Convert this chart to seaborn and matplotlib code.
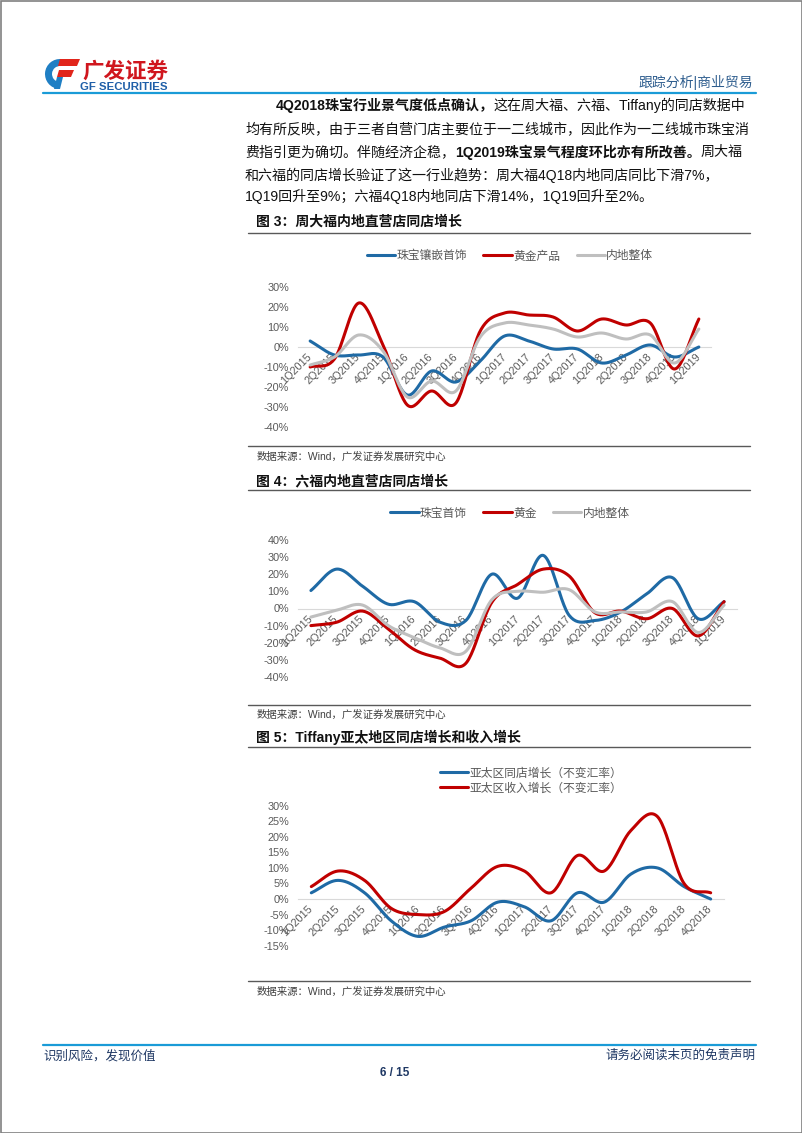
import numpy as np
import pandas as pd
import matplotlib
matplotlib.use("Agg")
import matplotlib.pyplot as plt
import seaborn as sns
from matplotlib.patches import Polygon, Wedge, Rectangle

# ---------------- data ----------------
quarters_a = ["1Q2015", "2Q2015", "3Q2015", "4Q2015", "1Q2016", "2Q2016", "3Q2016", "4Q2016",
              "1Q2017", "2Q2017", "3Q2017", "4Q2017", "1Q2018", "2Q2018", "3Q2018", "4Q2018", "1Q2019"]
quarters_b = quarters_a[:16]

ctf_jewel = [3, -4, -4, -5, -24, -12, -17.5, -7, 5.5, 3, -1, -1, -8, -4, 1, -5, 0]
ctf_gold = [-10, -6, 22, 1, -29, -22, -28, 8, 17, 16, 15, 8, 14, 11, 12, -11, 14]
ctf_total = [-9, -5, 6, -2, -25, -17, -22, 5, 12, 11, 9, 5, 7, 4, 6, -8, 9]
ctf_labels = ["珠宝镶嵌首饰", "黄金产品", "内地整体"]

lf_jewel = [10.5, 23, 13, 2.5, 4, -8, -7, 20, 6, 31, -4, -7, -2, 8.5, 18, -6, 4]
lf_gold = [-10, -8, -1.5, -12, -24, -29, -32, 3.5, 14, 23, 19, -2.5, -1.5, -6, 0, -16, 4]
lf_total = [-5, -1, 2, -10, -17, -23, -25, 5, 10, 9.5, 11, -2, -2, -2, 4, -14, 2]
lf_labels = ["珠宝首饰", "黄金", "内地整体"]

tf_sss = [2, 6, 2, -7, -12, -9, -7, -1, -2.5, -7, 2, -1, 8, 10, 4, 0]
tf_rev = [4, 9, 6, -3, -5, -4, 3.5, 10.5, 9, 2, 14, 9, 22, 26.5, 5, 2]
tf_labels = ["亚太区同店增长（不变汇率）", "亚太区收入增长（不变汇率）"]

yt_a = [30, 20, 10, 0, -10, -20, -30, -40]
yt_b = [40, 30, 20, 10, 0, -10, -20, -30, -40]
yt_c = [30, 25, 20, 15, 10, 5, 0, -5, -10, -15]

# ---------------- style ----------------
sns.set_style("white")
plt.rcParams["font.family"] = ["Liberation Sans", "Noto Sans CJK SC", "DejaVu Sans"]

BLUE = "#1f6aa5"
RED = "#c00000"
GRAY = "#bfbfbf"
TICK = "#595959"
W, H = 802, 1133

fig = plt.figure(figsize=(W / 100, H / 100), dpi=100)
fig.patch.set_facecolor("white")
pax = fig.add_axes([0, 0, 1, 1], zorder=0)
pax.set_xlim(0, W)
pax.set_ylim(H, 0)
pax.axis("off")
renderer = fig.canvas.get_renderer()


def smooth(xs, ys, n=24):
    xs = np.asarray(xs, float)
    ys = np.asarray(ys, float)
    m = np.empty_like(ys)
    m[1:-1] = (ys[2:] - ys[:-2]) / 2.0
    m[0] = ys[1] - ys[0]
    m[-1] = ys[-1] - ys[-2]
    ox, oy = [], []
    for i in range(len(xs) - 1):
        t = np.linspace(0, 1, n, endpoint=False)
        h00 = 2 * t**3 - 3 * t**2 + 1
        h10 = t**3 - 2 * t**2 + t
        h01 = -2 * t**3 + 3 * t**2
        h11 = t**3 - t**2
        ox.append(xs[i] + t * (xs[i + 1] - xs[i]))
        oy.append(h00 * ys[i] + h10 * m[i] + h01 * ys[i + 1] + h11 * m[i + 1])
    ox.append([xs[-1]])
    oy.append([ys[-1]])
    return np.concatenate(ox), np.concatenate(oy)


def seg_text(x, y, segments, size=10.1, color="#111111"):
    for s, bold in segments:
        t = pax.text(x, y, s, fontsize=size, fontweight="bold" if bold else "normal",
                     va="center", ha="left", color=color)
        x += t.get_window_extent(renderer).width


def chart(left, right, top, bottom, cats, series, colors, labels, yticks, ylim,
          leg_xy, leg_ncol):
    ax = fig.add_axes([left / W, 1 - bottom / H, (right - left) / W, (bottom - top) / H], zorder=2)
    ax.patch.set_alpha(0)
    xs = np.arange(len(cats))
    handles = []
    for vals, c in zip(series, colors):
        sx, sy = smooth(xs, vals)
        sns.lineplot(x=sx, y=sy, ax=ax, color=c, linewidth=2.2, sort=False,
                     estimator=None, legend=False, zorder=3)
        handles.append(ax.lines[-1])
    ax.set_xlim(-0.5, len(cats) - 0.5)
    ax.set_ylim(*ylim)
    for sp in ["top", "right", "left"]:
        ax.spines[sp].set_visible(False)
    ax.spines["bottom"].set_position(("data", 0))
    ax.spines["bottom"].set_color("#d9d9d9")
    ax.spines["bottom"].set_linewidth(0.8)
    ax.spines["bottom"].set_zorder(1)
    ax.set_yticks(yticks)
    ax.set_yticklabels([f"{v}%" for v in yticks])
    ax.set_xticks(xs)
    ax.set_xticklabels(cats, rotation=45, ha="right", va="center", rotation_mode="anchor")
    ax.tick_params(axis="y", length=0, pad=6.5, labelsize=7.8, labelcolor=TICK)
    ax.tick_params(axis="x", length=0, pad=6, labelsize=7.8, labelcolor=TICK)
    for lab in ax.get_xticklabels() + ax.get_yticklabels():
        lab.set_family("Liberation Sans")
    ax.grid(False)
    ax.legend(handles, labels, loc="center", bbox_to_anchor=(leg_xy[0] / W, 1 - leg_xy[1] / H),
              bbox_transform=fig.transFigure, ncol=leg_ncol, frameon=False,
              handlelength=2.4, handletextpad=0.1, columnspacing=1.4, labelspacing=0.15,
              prop={"family": "Noto Sans CJK SC", "size": 8.5}, labelcolor=TICK)
    return ax


# ---------------- page decorations ----------------
pax.add_patch(Rectangle((0.5, 0.5), W - 1, H - 1, fill=False, edgecolor="#808080", lw=1.2))

# logo
pax.add_patch(Wedge((60, 74), 15, 95, 275, width=7, facecolor="#1f7fc4", edgecolor="none"))
pax.add_patch(Polygon([(60, 59), (80, 59), (77, 66), (58, 66)], closed=True, facecolor="#e1251b", edgecolor="none"))
pax.add_patch(Polygon([(59, 70), (74, 70), (71, 77), (57, 77)], closed=True, facecolor="#e1251b", edgecolor="none"))
pax.add_patch(Polygon([(57, 77), (63, 77), (60, 89), (54, 89)], closed=True, facecolor="#1f7fc4", edgecolor="none"))
pax.text(82, 71, "广发证券", fontsize=15.5, fontweight="bold", color="#d0161e", va="center", ha="left",
         family=["Noto Sans CJK SC"])
pax.text(80, 87, "GF SECURITIES", fontsize=8.2, fontweight="bold", color="#1f5fa8", va="center", ha="left",
         family=["Liberation Sans"])
pax.text(753, 82, "跟踪分析|商业贸易", fontsize=10, color="#2e5d8e", va="center", ha="right")
pax.plot([43, 756], [93, 93], color="#1a9bd7", lw=1.6)

# body paragraph
seg_text(276, 105, [("4Q2018珠宝行业景气度低点确认，", True), ("这在周大福、六福、Tiffany的同店数据中", False)])
seg_text(245, 129, [("均有所反映，由于三者自营门店主要位于一二线城市，因此作为一二线城市珠宝消", False)])
seg_text(245, 152, [("费指引更为确切。伴随经济企稳，", False), ("1Q2019珠宝景气程度环比亦有所改善。", True), ("周大福", False)])
seg_text(245, 175, [("和六福的同店增长验证了这一行业趋势：周大福4Q18内地同店同比下滑7%，", False)])
seg_text(245, 197, [("1Q19回升至9%；六福4Q18内地同店下滑14%，1Q19回升至2%。", False)])

RULE = "#595959"
SRC = "数据来源：Wind，广发证券发展研究中心"


def caption(y, text):
    pax.text(256, y, text, fontsize=10, fontweight="bold", color="#111111", va="center", ha="left")


def source(y_line, y_text):
    pax.plot([248, 750], [y_line, y_line], color=RULE, lw=1.0)
    pax.text(257, y_text, SRC, fontsize=7.5, color="#404040", va="center", ha="left")


caption(222, "图 3：周大福内地直营店同店增长")
pax.plot([248, 750], [233, 233], color=RULE, lw=1.0)
source(446, 457)
caption(481, "图 4：六福内地直营店同店增长")
pax.plot([248, 750], [490, 490], color=RULE, lw=1.0)
source(705, 715)
caption(737, "图 5：Tiffany亚太地区同店增长和收入增长")
pax.plot([248, 750], [747, 747], color=RULE, lw=1.0)
source(981, 992)

# footer
pax.plot([43, 756], [1045, 1045], color="#1a9bd7", lw=1.6)
pax.text(43, 1056, "识别风险，发现价值", fontsize=9, color="#1f3864", va="center", ha="left")
pax.text(756, 1056, "请务必阅读末页的免责声明", fontsize=9, color="#1f3864", va="center", ha="right")
pax.text(395, 1073, "6 / 15", fontsize=8.5, fontweight="bold", color="#1f3864", va="center", ha="center")

# ---------------- charts ----------------
chart(298, 711, 287, 427, quarters_a, [ctf_jewel, ctf_gold, ctf_total], [BLUE, RED, GRAY],
      ctf_labels, yt_a, (-40, 30), (510, 256), 3)
chart(298, 737, 540, 677, quarters_a, [lf_jewel, lf_gold, lf_total], [BLUE, RED, GRAY],
      lf_labels, yt_b, (-40, 40), (510, 513), 3)
chart(298, 724, 805.7, 945.7, quarters_b, [tf_sss, tf_rev], [BLUE, RED],
      tf_labels, yt_c, (-15, 30), (531, 780.5), 1)

fig.savefig("out.png", dpi=100)
